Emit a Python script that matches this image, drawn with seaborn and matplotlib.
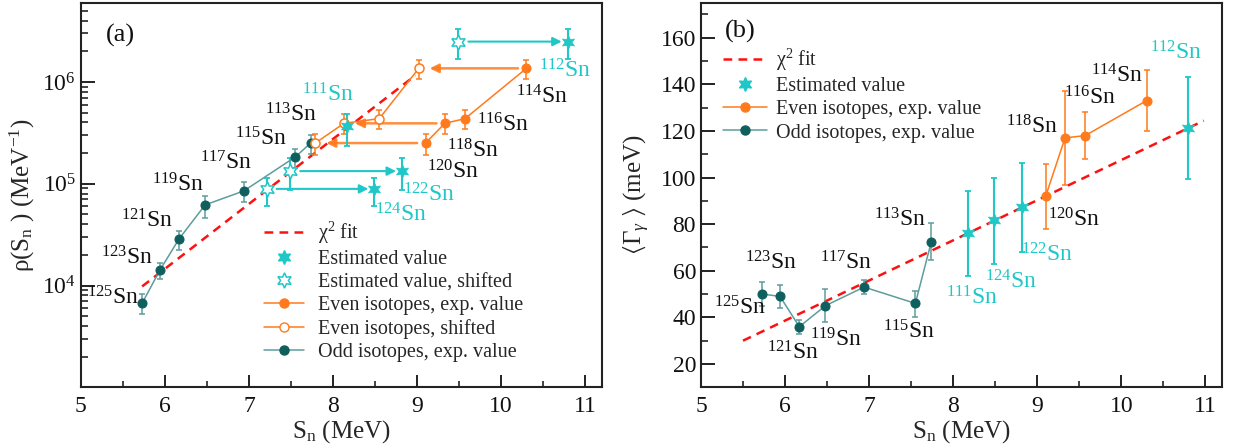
import numpy as np
import matplotlib
matplotlib.use("Agg")
import matplotlib.pyplot as plt
from matplotlib.lines import Line2D
from matplotlib.ticker import FixedLocator, LogLocator, MultipleLocator, NullFormatter
import seaborn as sns

# ---------------- data ----------------
# odd isotopes (experimental)
odd_mass = [125, 123, 121, 119, 117, 115, 113]
odd_sn = [5.73, 5.94, 6.17, 6.48, 6.94, 7.55, 7.74]
odd_rho = [6.7e3, 1.41e4, 2.88e4, 6.2e4, 8.5e4, 1.83e5, 2.53e5]
odd_rho_lo = [5.3e3, 1.16e4, 2.23e4, 4.63e4, 6.6e4, 1.44e5, 1.95e5]
odd_rho_hi = [8.3e3, 1.67e4, 3.47e4, 7.57e4, 1.05e5, 2.19e5, 3.01e5]
odd_gam = [50.0, 49.0, 36.0, 45.0, 53.0, 46.0, 72.5]
odd_gam_lo = [45.0, 44.0, 33.0, 38.0, 50.0, 40.0, 64.6]
odd_gam_hi = [55.0, 54.0, 39.0, 52.0, 56.0, 51.5, 80.7]

# even isotopes (experimental)
even_mass = [120, 118, 116, 114]
even_sn = [9.10, 9.33, 9.57, 10.30]
even_sn_shifted = [7.79, 8.13, 8.55, 9.02]
even_rho = [2.51e5, 3.92e5, 4.36e5, 1.36e6]
even_rho_lo = [1.91e5, 3.05e5, 3.42e5, 1.06e6]
even_rho_hi = [3.10e5, 4.81e5, 5.26e5, 1.63e6]
even_gam = [92.0, 117.0, 118.0, 133.0]
even_gam_lo = [78.0, 97.0, 108.0, 120.0]
even_gam_hi = [106.0, 137.0, 128.0, 146.0]
even_arrow = [True, True, False, True]

# estimated values
est_mass = [111, 124, 122, 112]
est_sn = [8.17, 8.49, 8.82, 10.79]
est_sn_shifted = [np.nan, 7.21, 7.49, 9.49]
est_rho = [3.69e5, 8.9e4, 1.33e5, 2.49e6]
est_rho_lo = [2.34e5, 6.1e4, 8.6e4, 1.67e6]
est_rho_hi = [4.81e5, 1.15e5, 1.77e5, 3.30e6]
est_gam = [76.1, 81.8, 87.2, 121.4]
est_gam_lo = [57.8, 62.8, 68.2, 99.2]
est_gam_hi = [94.2, 100.0, 106.4, 143.0]

# chi^2 fits
fit_rho_sn = [5.73, 8.98]
fit_rho = [9.8e3, 1.16e6]
fit_gam_sn = [5.50, 10.98]
fit_gam = [30.0, 124.4]

# ---------------- style ----------------
sns.set_theme(style="ticks")
plt.rcParams["font.family"] = ["Liberation Serif", "DejaVu Serif"]
plt.rcParams["mathtext.fontset"] = "custom"
plt.rcParams["mathtext.rm"] = "Liberation Serif"
plt.rcParams["mathtext.it"] = "Liberation Serif:italic"
plt.rcParams["mathtext.bf"] = "Liberation Serif:bold"
plt.rcParams["mathtext.fallback"] = "stix"
plt.rcParams["axes.unicode_minus"] = False

ORANGE = "#ff7a1c"
CYAN = "#1fc7c7"
ODD_DOT = "#0f5f5f"
ODD_LINE = "#5e9d9d"
RED = "#ff1010"
BLACK = "#111111"
STAR = (6, 1, 0)
FIT_DASH = (0, (3.5, 2.5))

fig = plt.figure(figsize=(12.33, 4.46), dpi=100)
ax_a = fig.add_axes([0.0655, 0.1316, 0.4228, 0.8623])
ax_b = fig.add_axes([0.5685, 0.1316, 0.4228, 0.8623])


def iso(m):
    return r"$^{\mathrm{%d}}$Sn" % m


def err(v, lo, hi):
    v = np.asarray(v)
    return [v - np.asarray(lo), np.asarray(hi) - v]


def style_axes(ax):
    for s in ax.spines.values():
        s.set_linewidth(1.5)
        s.set_color("#222222")
    ax.tick_params(axis="both", which="both", direction="in", top=False, right=False,
                   labelsize=17, colors="#111111")
    ax.tick_params(axis="y", which="major", length=10, width=1.3)
    ax.tick_params(axis="y", which="minor", length=5, width=1.1)
    ax.tick_params(axis="x", which="major", length=8.5, width=1.3, pad=6)
    ax.tick_params(axis="x", which="minor", length=4.5, width=1.1)
    ax.set_xlim(5, 11.2)
    ax.xaxis.set_major_locator(MultipleLocator(1))
    ax.xaxis.set_minor_locator(MultipleLocator(0.5))
    ax.set_xlabel(r"S$_{\mathrm{n}}$ (MeV)", fontsize=18, labelpad=1)


# ---------------- panel (a) ----------------
ax = ax_a
sns.lineplot(x=fit_rho_sn, y=fit_rho, ax=ax, color=RED, lw=1.8,
             linestyle=FIT_DASH, sort=False, estimator=None, zorder=2)

# odd isotopes
ax.errorbar(odd_sn, odd_rho, yerr=err(odd_rho, odd_rho_lo, odd_rho_hi), fmt="none",
            ecolor=ODD_LINE, elinewidth=1.1, capsize=2.5, capthick=1.1, zorder=3)
sns.lineplot(x=odd_sn, y=odd_rho, ax=ax, color=ODD_LINE, lw=1.1, sort=False,
             estimator=None, marker="o", markersize=6.5, markerfacecolor=ODD_DOT,
             markeredgecolor=ODD_DOT, zorder=4)

# even isotopes, experimental and shifted
ax.errorbar(even_sn, even_rho, yerr=err(even_rho, even_rho_lo, even_rho_hi), fmt="none",
            ecolor=ORANGE, elinewidth=1.1, capsize=2.5, capthick=1.1, zorder=3)
ax.errorbar(even_sn_shifted, even_rho, yerr=err(even_rho, even_rho_lo, even_rho_hi),
            fmt="none", ecolor=ORANGE, elinewidth=1.1, capsize=2.5, capthick=1.1, zorder=3)
sns.lineplot(x=even_sn, y=even_rho, ax=ax, color=ORANGE, lw=1.1, sort=False,
             estimator=None, marker="o", markersize=6.5, markerfacecolor=ORANGE,
             markeredgecolor=ORANGE, zorder=4)
sns.lineplot(x=even_sn_shifted, y=even_rho, ax=ax, color=ORANGE, lw=1.1, sort=False,
             estimator=None, marker="o", markersize=6.5, markerfacecolor="white",
             markeredgecolor=ORANGE, markeredgewidth=1.1, zorder=4)
for x0, x1, y, draw in zip(even_sn, even_sn_shifted, even_rho, even_arrow):
    if draw:
        ax.annotate("", xy=(x1 + 0.13, y), xytext=(x0 - 0.1, y),
                    arrowprops=dict(arrowstyle="-|>", color=ORANGE, lw=1.8, alpha=0.85,
                                    mutation_scale=13, shrinkA=0, shrinkB=0), zorder=3)

# estimated values and their shifted positions
ax.errorbar(est_sn, est_rho, yerr=err(est_rho, est_rho_lo, est_rho_hi), fmt="none",
            ecolor=CYAN, elinewidth=1.5, capsize=2.5, capthick=1.3, zorder=3)
sh = ~np.isnan(est_sn_shifted)
est_sh_x = np.asarray(est_sn_shifted)[sh]
est_sh_y = np.asarray(est_rho)[sh]
ax.errorbar(est_sh_x, est_sh_y,
            yerr=err(est_sh_y, np.asarray(est_rho_lo)[sh], np.asarray(est_rho_hi)[sh]),
            fmt="none", ecolor=CYAN, elinewidth=1.5, capsize=2.5, capthick=1.3, zorder=3)
sns.scatterplot(x=est_sn, y=est_rho, ax=ax, marker=STAR, s=100, color=CYAN,
                edgecolor=CYAN, linewidth=0.5, zorder=5)
ax.plot(est_sh_x, est_sh_y, linestyle="none", marker=STAR, markersize=11,
        markerfacecolor="white", markeredgecolor=CYAN, markeredgewidth=1.1, zorder=5)
for x0, x1, y in zip(est_sh_x, np.asarray(est_sn)[sh], est_sh_y):
    ax.annotate("", xy=(x1 - 0.07, y), xytext=(x0 + 0.12, y),
                arrowprops=dict(arrowstyle="-|>", color=CYAN, lw=1.5,
                                mutation_scale=13, shrinkA=0, shrinkB=0), zorder=3)

ax.set_yscale("log")
ax.set_ylim(1e3, 6e6)
ax.yaxis.set_major_locator(FixedLocator([1e4, 1e5, 1e6]))
ax.yaxis.set_minor_locator(LogLocator(base=10, subs=np.arange(2, 10)))
ax.yaxis.set_minor_formatter(NullFormatter())
style_axes(ax)
ax.set_ylabel(r"ρ(S$_{\mathrm{n}}$ ) (MeV$^{\mathrm{-1}}$)", fontsize=18, labelpad=4)
ax.text(5.47, 10 ** 6.46, "(a)", fontsize=19, ha="center", va="center", color=BLACK)

labels_a = {
    125: (5.39, 3.879, BLACK), 123: (5.55, 4.272, BLACK), 121: (5.79, 4.639, BLACK),
    119: (6.155, 4.993, BLACK), 117: (6.73, 5.207, BLACK), 115: (7.144, 5.443, BLACK),
    113: (7.50, 5.672, BLACK), 111: (7.94, 5.869, CYAN), 112: (10.754, 6.108, CYAN),
    114: (10.49, 5.852, BLACK), 116: (10.02, 5.574, BLACK), 118: (9.67, 5.321, BLACK),
    120: (9.43, 5.115, BLACK), 122: (9.147, 4.895, CYAN), 124: (8.81, 4.698, CYAN),
}
for m, (x, ly, c) in labels_a.items():
    ax.text(x, 10 ** ly, iso(m), fontsize=17, color=c, ha="center", va="center", zorder=6)

handles_a = [
    Line2D([], [], color=RED, lw=1.8, linestyle=FIT_DASH),
    Line2D([], [], linestyle="none", marker=STAR, markersize=10, color=CYAN),
    Line2D([], [], linestyle="none", marker=STAR, markersize=11, markerfacecolor="white",
           markeredgecolor=CYAN, markeredgewidth=1.1),
    Line2D([], [], color=ORANGE, lw=1.1, marker="o", markersize=6.5),
    Line2D([], [], color=ORANGE, lw=1.1, marker="o", markersize=6.5,
           markerfacecolor="white", markeredgecolor=ORANGE),
    Line2D([], [], color=ODD_LINE, lw=1.1, marker="o", markersize=6.5,
           markerfacecolor=ODD_DOT, markeredgecolor=ODD_DOT),
]
texts_a = [r"χ$^{\mathrm{2}}$ fit", "Estimated value", "Estimated value, shifted",
           "Even isotopes, exp. value", "Even isotopes, shifted", "Odd isotopes, exp. value"]
ax.legend(handles_a, texts_a, loc="upper left", bbox_to_anchor=(0.352, 0.436),
          frameon=False, fontsize=14.5, handlelength=1.95, handletextpad=0.7,
          labelspacing=0.2, borderpad=0, borderaxespad=0)

# ---------------- panel (b) ----------------
ax = ax_b
sns.lineplot(x=fit_gam_sn, y=fit_gam, ax=ax, color=RED, lw=1.8,
             linestyle=FIT_DASH, sort=False, estimator=None, zorder=2)
ax.errorbar(odd_sn, odd_gam, yerr=err(odd_gam, odd_gam_lo, odd_gam_hi), fmt="none",
            ecolor=ODD_LINE, elinewidth=1.1, capsize=2.5, capthick=1.1, zorder=3)
sns.lineplot(x=odd_sn, y=odd_gam, ax=ax, color=ODD_LINE, lw=1.1, sort=False,
             estimator=None, marker="o", markersize=6.5, markerfacecolor=ODD_DOT,
             markeredgecolor=ODD_DOT, zorder=4)
ax.errorbar(even_sn, even_gam, yerr=err(even_gam, even_gam_lo, even_gam_hi), fmt="none",
            ecolor=ORANGE, elinewidth=1.1, capsize=2.5, capthick=1.1, zorder=3)
sns.lineplot(x=even_sn, y=even_gam, ax=ax, color=ORANGE, lw=1.1, sort=False,
             estimator=None, marker="o", markersize=6.5, markerfacecolor=ORANGE,
             markeredgecolor=ORANGE, zorder=4)
ax.errorbar(est_sn, est_gam, yerr=err(est_gam, est_gam_lo, est_gam_hi), fmt="none",
            ecolor=CYAN, elinewidth=1.5, capsize=2.5, capthick=1.3, zorder=3)
sns.scatterplot(x=est_sn, y=est_gam, ax=ax, marker=STAR, s=100, color=CYAN,
                edgecolor=CYAN, linewidth=0.5, zorder=5)

ax.set_ylim(10, 175)
ax.yaxis.set_major_locator(MultipleLocator(20))
ax.yaxis.set_minor_locator(MultipleLocator(10))
style_axes(ax)
ax.set_ylabel(r"$\langle$Γ$_{γ}$ $\rangle$ (meV)", fontsize=18, labelpad=6)
ax.text(5.47, 162.6, "(b)", fontsize=19, ha="center", va="center", color=BLACK)

labels_b = {
    123: (5.83, 63.2, BLACK), 125: (5.47, 44.0, BLACK), 121: (6.09, 24.6, BLACK),
    119: (6.61, 30.3, BLACK), 117: (6.72, 63.2, BLACK), 115: (7.48, 33.9, BLACK),
    113: (7.37, 81.8, BLACK), 111: (8.23, 48.2, CYAN), 124: (8.69, 55.4, CYAN),
    122: (9.12, 66.8, CYAN), 120: (9.44, 81.8, BLACK), 118: (8.94, 121.8, BLACK),
    116: (9.63, 134.0, BLACK), 114: (9.95, 143.6, BLACK), 112: (10.65, 153.3, CYAN),
}
for m, (x, y, c) in labels_b.items():
    ax.text(x, y, iso(m), fontsize=17, color=c, ha="center", va="center", zorder=6)

handles_b = [handles_a[0], handles_a[1], handles_a[3], handles_a[5]]
texts_b = [texts_a[0], texts_a[1], texts_a[3], texts_a[5]]
ax.legend(handles_b, texts_b, loc="upper left", bbox_to_anchor=(0.042, 0.885),
          frameon=False, fontsize=14.5, handlelength=2.2, handletextpad=0.45,
          labelspacing=0.2, borderpad=0, borderaxespad=0)

fig.savefig("out.png", dpi=100)
